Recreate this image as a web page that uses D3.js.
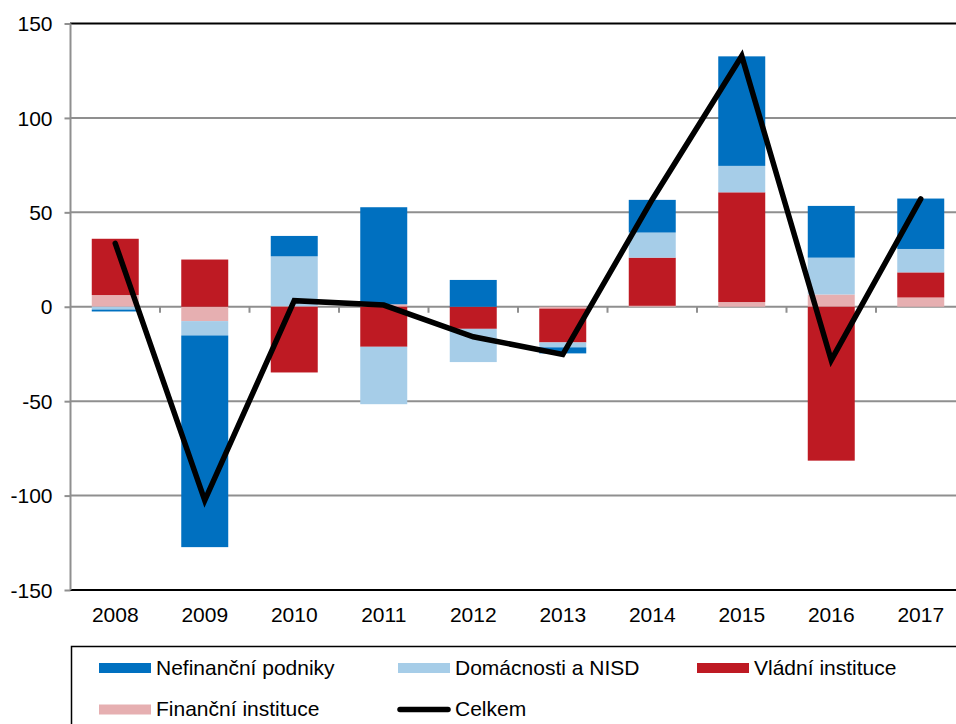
<!DOCTYPE html>
<html><head><meta charset="utf-8">
<script src="https://cdn.jsdelivr.net/npm/d3@7/dist/d3.min.js"></script>
<style>html,body{margin:0;padding:0;background:#fff;overflow:hidden}</style>
</head><body>
<svg id="c" width="956" height="724"></svg>
<script>
const years = ["2008","2009","2010","2011","2012","2013","2014","2015","2016","2017"];
const nefinancni = [-1.0, -112.1, 10.8, 51.4, 14.2, -3.2, 17.3, 58.0, 27.4, 26.7];
const domacnosti = [-1.5, -7.6, 26.4, -30.4, -17.6, -2.6, 13.3, 14.0, 19.5, 12.4];
const vladni = [29.8, 25.0, -34.8, -21.2, -11.7, -17.9, 25.5, 58.1, -81.5, 13.3];
const financni = [6.2, -7.6, 0.3, 1.3, 0.0, -1.0, 0.5, 2.5, 6.5, 4.9];
const celkem = [33.6, -102.5, 3.2, 0.9, -15.9, -25.3, 56.8, 132.8, -28.3, 57.1];
const yTicks = [150, 100, 50, 0, -50, -100, -150];
const seriesNames = ["Nefinanční podniky", "Domácnosti a NISD", "Vládní instituce", "Finanční instituce", "Celkem"];
const colors = {"Nefinanční podniky":"#0070c0","Domácnosti a NISD":"#a6cde8","Vládní instituce":"#be1a23","Finanční instituce":"#e6afb1","Celkem":"#000"};

const svg = d3.select("#c");
const font = "'Liberation Sans', Arial, sans-serif";
const fs = 21;
const x = d3.scaleBand().domain(years).range([70.5, 965.5]).paddingInner(0.475).paddingOuter(0.2375);
const y = d3.scaleLinear().domain([-150, 150]).range([590, 23.5]);

// gridlines
const grid = svg.append("g");
grid.selectAll("line").data(yTicks.filter(v => v !== 150 && v !== -150)).join("line")
  .attr("x1", 70).attr("x2", 970).attr("y1", d => y(d)).attr("y2", d => y(d))
  .attr("stroke", "#8f8f8f").attr("stroke-width", 2);

// stacked bars
const table = years.map((yr, i) => ({year: yr,
  "Finanční instituce": financni[i], "Vládní instituce": vladni[i],
  "Domácnosti a NISD": domacnosti[i], "Nefinanční podniky": nefinancni[i]}));
const keys = ["Finanční instituce", "Vládní instituce", "Domácnosti a NISD", "Nefinanční podniky"];
const stack = d3.stack().keys(keys).offset(d3.stackOffsetDiverging)(table);
svg.append("g").selectAll("g").data(stack).join("g")
  .attr("fill", d => colors[d.key])
  .selectAll("rect").data(d => d).join("rect")
  .attr("x", d => x(d.data.year)).attr("width", x.bandwidth())
  .attr("y", d => y(Math.max(d[0], d[1])))
  .attr("height", d => Math.abs(y(d[0]) - y(d[1])));

// x tick marks on zero line
svg.append("g").selectAll("line").data(years.slice(1)).join("line")
  .attr("x1", d => x(d) - x.step() * x.paddingInner() / 2).attr("x2", d => x(d) - x.step() * x.paddingInner() / 2)
  .attr("y1", y(0)).attr("y2", y(0) + 6)
  .attr("stroke", "#8f8f8f").attr("stroke-width", 2);

// top/bottom frame
svg.append("line").attr("x1", 70).attr("x2", 970).attr("y1", y(150)).attr("y2", y(150)).attr("stroke", "#000").attr("stroke-width", 2);
svg.append("line").attr("x1", 70).attr("x2", 970).attr("y1", y(-150)).attr("y2", y(-150)).attr("stroke", "#000").attr("stroke-width", 2);

// y axis
const yAxis = svg.append("g").attr("transform", "translate(70.5,0)")
  .call(d3.axisLeft(y).tickValues(yTicks).tickSize(6).tickPadding(12).tickFormat(d => String(d)));
yAxis.select(".domain").attr("stroke", "#8f8f8f").attr("stroke-width", 2).attr("d", `M0,${y(150)}V${y(-150)}`);
yAxis.selectAll(".tick line").attr("stroke", "#8f8f8f").attr("stroke-width", 2);
yAxis.selectAll(".tick text").attr("font-family", font).attr("font-size", fs).attr("fill", "#000").attr("dy", "0.34em");

// x labels
svg.append("g").selectAll("text").data(years).join("text")
  .attr("x", d => x(d) + x.bandwidth() / 2).attr("y", 622)
  .attr("text-anchor", "middle").attr("font-family", font).attr("font-size", fs).attr("fill", "#000")
  .text(d => d);

// Celkem line
const line = d3.line().x((d, i) => x(years[i]) + x.bandwidth() / 2).y(d => y(d));
svg.append("path").datum(celkem).attr("d", line)
  .attr("fill", "none").attr("stroke", "#000").attr("stroke-width", 5.5)
  .attr("stroke-linecap", "round").attr("stroke-linejoin", "miter");

// legend
const lg = svg.append("g");
lg.append("rect").attr("x", 71.5).attr("y", 646.5).attr("width", 1000).attr("height", 200)
  .attr("fill", "none").attr("stroke", "#000").attr("stroke-width", 1.5);
const legendPos = [
  {name: seriesNames[0], sx: 99, ty: 668},
  {name: seriesNames[1], sx: 398, ty: 668},
  {name: seriesNames[2], sx: 697, ty: 668},
  {name: seriesNames[3], sx: 99, ty: 709.5},
  {name: seriesNames[4], sx: 398, ty: 709.5}
];
legendPos.forEach(p => {
  if (p.name === "Celkem") {
    lg.append("line").attr("x1", p.sx + 2).attr("x2", p.sx + 50).attr("y1", p.ty).attr("y2", p.ty)
      .attr("stroke", "#000").attr("stroke-width", 5.5).attr("stroke-linecap", "round");
  } else {
    lg.append("rect").attr("x", p.sx).attr("y", p.ty - 5).attr("width", 52).attr("height", 10).attr("fill", colors[p.name]);
  }
  lg.append("text").attr("x", p.sx + 57).attr("y", p.ty + 6.5).attr("font-family", font).attr("font-size", fs)
    .attr("fill", "#000").text(p.name);
});
</script>
</body></html>
